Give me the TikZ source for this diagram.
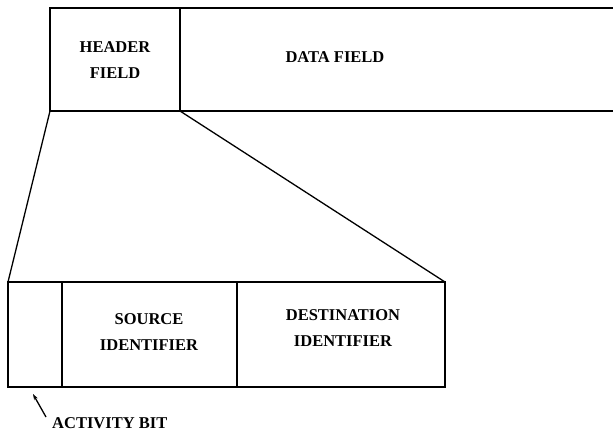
\documentclass[tikz,border=0pt]{standalone}
\usepackage{fontspec}
\setmainfont{Liberation Serif}
\usetikzlibrary{arrows.meta}
\begin{document}
\begin{tikzpicture}[x=1pt,y=-1pt,
  box/.style={draw,line width=1.5pt,minimum width=#1,minimum height=103pt,inner sep=0pt,outer sep=0pt,anchor=north west},
  lbl/.style={font=\bfseries\fontsize{16.5}{26}\selectfont,align=center,inner sep=0pt},
  conn/.style={line width=1.3pt}]
\useasboundingbox (0,0) rectangle (613,434);
% top frame
\node[box=130pt] (header) at (50,8) {};
\coordinate (dtr) at (613,8);
\coordinate (dbr) at (613,111);
\draw[line width=1.5pt] (header.north east) -- (dtr);
\draw[line width=1.5pt] (header.south east) -- (dbr);
\node[lbl] (htext) at (115,60) {HEADER\\FIELD};
\node[lbl] (dtext) at (335,57) {DATA FIELD};
% bottom frame
\node[box=54pt,minimum height=105pt] (act) at (8,282) {};
\node[box=175pt,minimum height=105pt] (src) at (62,282) {};
\node[box=208pt,minimum height=105pt] (dst) at (237,282) {};
\node[lbl] (stext) at (149,332.5) {SOURCE\\IDENTIFIER};
\node[lbl] (ttext) at (343,328.5) {DESTINATION\\IDENTIFIER};
% expansion lines
\draw[conn] (header.south west) -- (act.north west);
\draw[conn] (header.south east) -- (dst.north east);
% activity bit
\node[lbl,anchor=west] (abit) at (52,423) {ACTIVITY BIT};
\coordinate (atail) at (46,417);
\coordinate (ahead) at (33,394);
\draw[conn,-{Stealth[length=6pt,width=4pt]}] (atail) -- (ahead);
\end{tikzpicture}
\end{document}
